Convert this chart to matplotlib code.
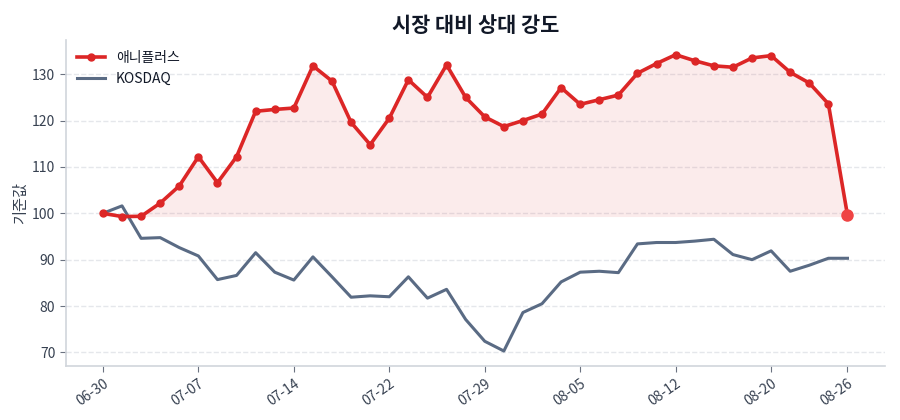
import matplotlib
matplotlib.use("Agg")
import matplotlib.pyplot as plt
import numpy as np

plt.rcParams['font.family'] = ['Noto Sans CJK KR', 'DejaVu Sans']

title = "시장 대비 상대 강도"
ylabel = "기준값"
stock_name = "애니플러스"
index_name = "KOSDAQ"

stock = [100.0, 99.3, 99.35, 102.2, 105.9, 112.2, 106.6, 112.2, 122.0, 122.4,
         122.7, 131.8, 128.5, 119.6, 114.8, 120.5, 128.8, 125.0, 132.0, 125.0,
         120.8, 118.7, 120.0, 121.4, 127.1, 123.5, 124.5, 125.5, 130.2, 132.3,
         134.2, 132.9, 131.8, 131.5, 133.5, 134.0, 130.4, 128.1, 123.6, 99.6]
kosdaq = [100.0, 101.6, 94.6, 94.75, 92.6, 90.8, 85.7, 86.6, 91.5, 87.3,
          85.6, 90.6, 86.3, 81.9, 82.2, 82.0, 86.3, 81.7, 83.6, 77.1,
          72.4, 70.3, 78.6, 80.5, 85.2, 87.3, 87.5, 87.2, 93.4, 93.7,
          93.7, 94.0, 94.4, 91.1, 90.0, 91.9, 87.5, 88.8, 90.3, 90.3]
tick_pos = [0, 5, 10, 15, 20, 25, 30, 35, 39]
tick_labels = ["06-30", "07-07", "07-14", "07-22", "07-29", "08-05", "08-12", "08-20", "08-26"]
y_ticks = [70, 80, 90, 100, 110, 120, 130]

red = "#dc2626"
slate = "#5a6b84"
x = np.arange(len(stock))
s = np.array(stock)

fig = plt.figure(figsize=(9, 4.2), dpi=100)
ax = fig.add_axes([0.073, 0.129, 0.910, 0.776])

ax.fill_between(x, s, s.min(), color=red, alpha=0.09, linewidth=0, zorder=1)
ax.plot(x, kosdaq, color=slate, linewidth=2.2, label=index_name, zorder=2)
ax.plot(x, stock, color=red, linewidth=2.6, marker='o', markersize=5, label=stock_name, zorder=3)
ax.plot(x[-1:], s[-1:], 'o', color="#ef4444", markersize=8, zorder=4)

ax.set_xticks(tick_pos)
ax.set_xticklabels(tick_labels, rotation=35, ha='right', rotation_mode='anchor')
ax.set_yticks(y_ticks)
ax.tick_params(colors="#6b7280", labelcolor="#374151", labelsize=10, length=4)
ax.grid(axis='y', linestyle='--', color="#e5e7eb", linewidth=1)
ax.set_axisbelow(True)
for sp in ['top', 'right']:
    ax.spines[sp].set_visible(False)
for sp in ['left', 'bottom']:
    ax.spines[sp].set_color("#d1d5db")
    ax.spines[sp].set_linewidth(1.2)

ax.set_ylabel(ylabel, color="#374151", fontsize=11, labelpad=2)
ax.set_title(title, fontsize=15, fontweight='bold', color="#111827", pad=6)

handles, labels = ax.get_legend_handles_labels()
order = [1, 0]
leg = ax.legend([handles[i] for i in order], [labels[i] for i in order],
                loc='upper left', frameon=False, fontsize=10, borderaxespad=0.4)
for t in leg.get_texts():
    t.set_color("#111827")

fig.savefig("out.png", dpi=100)
